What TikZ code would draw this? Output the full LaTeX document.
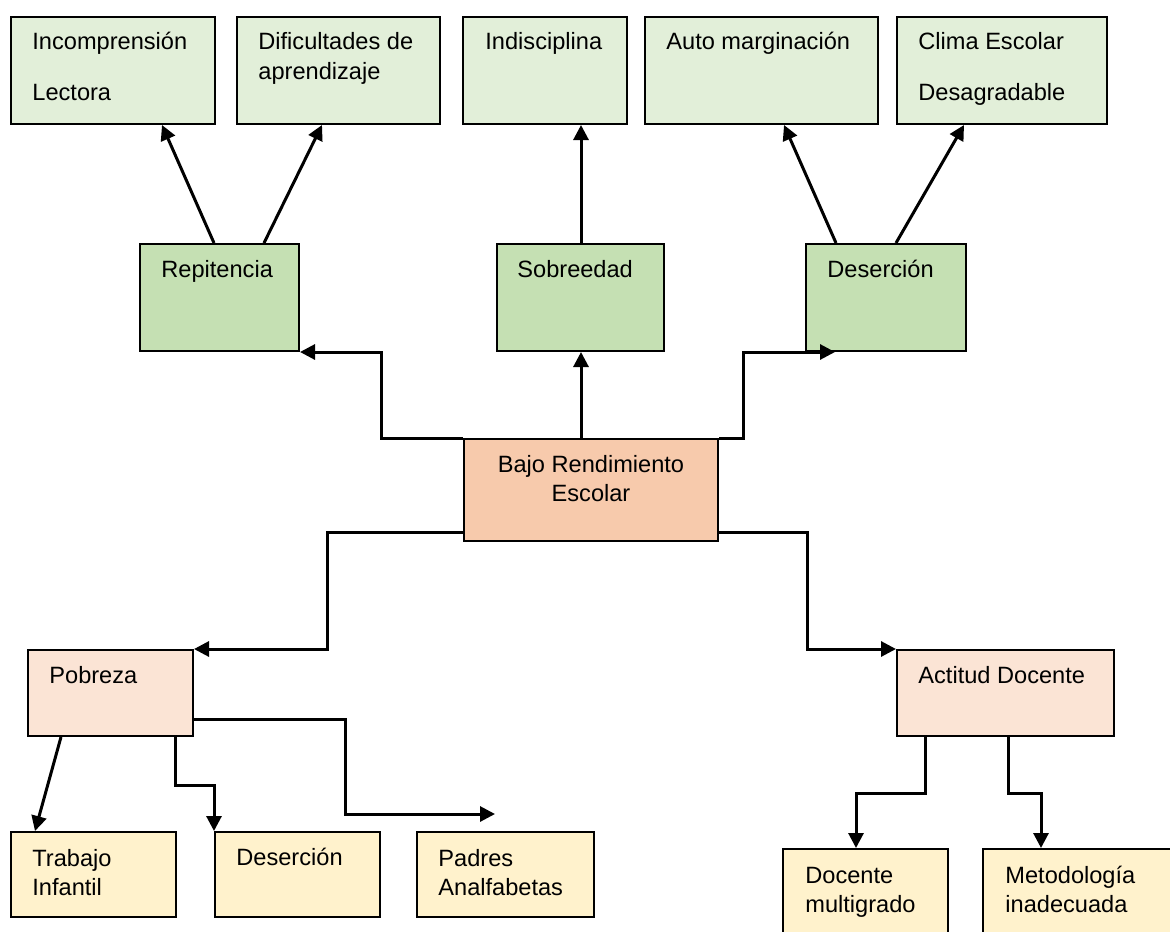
\documentclass[tikz,border=0pt]{standalone}
\usepackage{fontspec}
\setmainfont{Liberation Sans}
\usetikzlibrary{arrows.meta,fit,calc}
\definecolor{gLight}{HTML}{E2EFD9}
\definecolor{gMid}{HTML}{C5E0B3}
\definecolor{peach}{HTML}{F7CAAC}
\definecolor{peachLight}{HTML}{FBE4D5}
\definecolor{yel}{HTML}{FFF2CC}
\begin{document}
\begin{tikzpicture}[x=0.5pt,y=-0.5pt,
  box/.style={draw, line width=1pt, inner sep=0pt},
  txt/.style={anchor=base west, inner sep=0pt, font=\fontsize{11.8pt}{14pt}\selectfont},
  ctxt/.style={anchor=base, inner sep=0pt, font=\fontsize{11.8pt}{14pt}\selectfont},
  conn/.style={line width=1.5pt, -{Triangle[length=7.5pt,width=7.5pt]}}]
\clip (0,0) rectangle (1170,931);
\fill[white] (0,0) rectangle (1170,931);
% top row
\node[box, fill=gLight, fit={(11,17)(215,124)}] (inc) {};
\node[box, fill=gLight, fit={(237,17)(440,124)}] (dif) {};
\node[box, fill=gLight, fit={(463,17)(627,124)}] (ind) {};
\node[box, fill=gLight, fit={(645,17)(878,124)}] (aut) {};
\node[box, fill=gLight, fit={(897,17)(1107,124)}] (cli) {};
% middle row
\node[box, fill=gMid, fit={(140,244)(299,351)}] (rep) {};
\node[box, fill=gMid, fit={(497,244)(664,351)}] (sob) {};
\node[box, fill=gMid, fit={(806,244)(966,351)}] (des) {};
% center
\node[box, fill=peach, fit={(464,439)(718,541)}] (bajo) {};
% lower
\node[box, fill=peachLight, fit={(28,650)(193,736)}] (pob) {};
\node[box, fill=peachLight, fit={(897,650)(1114,736)}] (act) {};
% bottom
\node[box, fill=yel, fit={(11,832)(176,917)}] (tra) {};
\node[box, fill=yel, fit={(215,832)(380,917)}] (desb) {};
\node[box, fill=yel, fit={(417,832)(594,917)}] (pad) {};
\node[box, fill=yel, fit={(783,849)(948,960)}] (doc) {};
\node[box, fill=yel, fit={(983,849)(1220,960)}] (met) {};
% texts
\node[txt] (t1) at (32,50) {Incomprensión};
\node[txt] (t2) at (32,100) {Lectora};
\node[txt] (t3) at (258,50) {Dificultades de};
\node[txt] (t4) at (258,80) {aprendizaje};
\node[txt] (t5) at (485,50) {Indisciplina};
\node[txt] (t6) at (666,50) {Auto marginación};
\node[txt] (t7) at (918,50) {Clima Escolar};
\node[txt] (t8) at (918,100) {Desagradable};
\node[txt] (t9) at (161,277) {Repitencia};
\node[txt] (t10) at (517,277) {Sobreedad};
\node[txt] (t11) at (827,277) {Deserción};
\node[ctxt] (t12) at (591,472) {Bajo Rendimiento};
\node[ctxt] (t13) at (591,501) {Escolar};
\node[txt] (t14) at (49,683) {Pobreza};
\node[txt] (t15) at (918,683) {Actitud Docente};
\node[txt] (t16) at (32,866) {Trabajo};
\node[txt] (t17) at (32,895) {Infantil};
\node[txt] (t18) at (236,865) {Deserción};
\node[txt] (t19) at (438,866) {Padres};
\node[txt] (t20) at (438,895) {Analfabetas};
\node[txt] (t21) at (805,883) {Docente};
\node[txt] (t22) at (805,912) {multigrado};
\node[txt] (t23) at (1005,883) {Metodología};
\node[txt] (t24) at (1005,912) {inadecuada};
% connectors top
\draw[conn] ($(rep.north west)+(75,0)$) -- ($(inc.south west)+(152,0)$);
\draw[conn] ($(rep.north west)+(125,0)$) -- ($(dif.south west)+(86,0)$);
\draw[conn] ($(sob.north west)+(85,0)$) coordinate (s1) -- (s1 |- ind.south);
\draw[conn] ($(des.north west)+(31,0)$) -- ($(aut.south west)+(140,0)$);
\draw[conn] ($(des.north west)+(91,0)$) -- ($(cli.south west)+(68,0)$);
% from center
\draw[conn] (bajo.north west) -- ++(-82,0) |- (rep.south east);
\draw[conn] ($(bajo.north west)+(118,0)$) coordinate (b1) -- (b1 |- sob.south);
\draw[conn] (bajo.north east) -- ++(24,0) |- ($(des.south west)+(30,0)$);
\draw[conn] ($(bajo.south west)+(0,-10)$) -- ++(-136,0) |- (pob.north east);
\draw[conn] ($(bajo.south east)+(0,-10)$) -- ++(88,0) |- (act.north west);
% pobreza
\coordinate (padtip) at ($(pad.north west)+(79,-17)$);
\draw[conn] ($(pob.south west)+(34,0)$) -- ($(tra.north west)+(25,0)$);
\draw[conn] ($(pob.south west)+(148,0)$) -- ++(0,48) -| (desb.north west);
\draw[conn] ($(pob.south east)+(0,-18)$) -- ++(151,0) |- (padtip);
% actitud
\draw[conn] ($(act.south west)+(29,0)$) -- ++(0,56) -| ($(doc.north west)+(74,0)$);
\draw[conn] ($(act.south west)+(112,0)$) -- ++(0,56) -| ($(met.north west)+(59,0)$);
\end{tikzpicture}
\end{document}
